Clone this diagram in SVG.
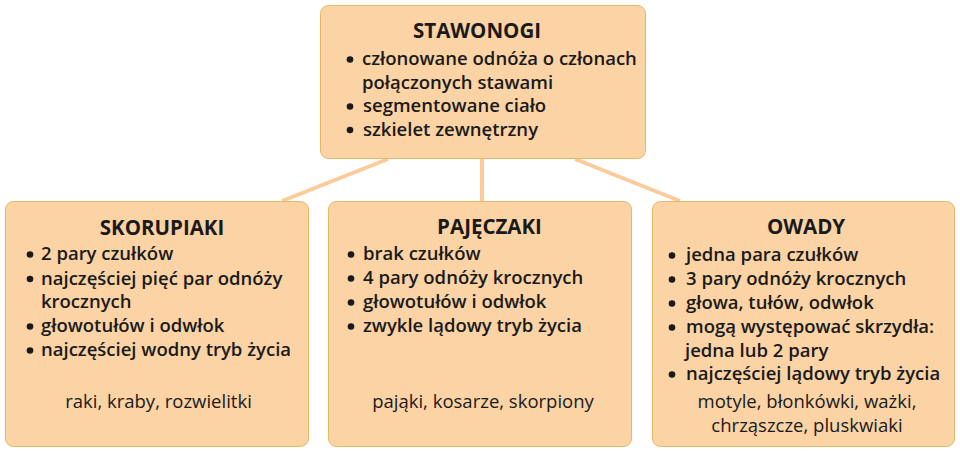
<svg xmlns="http://www.w3.org/2000/svg" width="960" height="453" viewBox="0 0 960 453">
<style>
.box{fill:#FBD3A5;stroke:#E5B866;stroke-width:1}
.t{font-family:"Open Sans","Noto Sans",sans-serif;font-size:18.5px;font-weight:600;fill:#1a1a1a}
.h{font-family:"Open Sans","Noto Sans",sans-serif;font-size:20.5px;font-weight:bold;fill:#1a1a1a;text-anchor:middle}
.f{font-family:"Open Sans","Noto Sans",sans-serif;font-size:18.5px;fill:#1a1a1a;text-anchor:middle}
.b{fill:#1a1a1a}
.c{stroke:#FDCB9A;stroke-width:4;fill:none}
</style>
<rect width="960" height="453" fill="#ffffff"/>
<g id="connectors">
<line class="c" x1="388" y1="159" x2="282" y2="201"/>
<line class="c" x1="482" y1="159" x2="482" y2="201"/>
<line class="c" x1="575" y1="159" x2="680" y2="201"/>
</g>
<g id="stawonogi">
<rect class="box" x="320.5" y="5.5" width="325" height="153" rx="8"/>
<text class="h" x="477" y="38">STAWONOGI</text>
<circle class="b" cx="350" cy="59.5" r="3.3"/>
<text class="t" x="362" y="65">członowane odnóża o członach</text>
<text class="t" x="362" y="88.5">połączonych stawami</text>
<circle class="b" cx="350" cy="106.5" r="3.3"/>
<text class="t" x="363" y="112">segmentowane ciało</text>
<circle class="b" cx="350" cy="130" r="3.3"/>
<text class="t" x="363" y="135.5">szkielet zewnętrzny</text>
</g>
<g id="skorupiaki">
<rect class="box" x="5.5" y="201.5" width="303" height="245" rx="8"/>
<text class="h" x="162" y="235">SKORUPIAKI</text>
<circle class="b" cx="30" cy="254.5" r="3.3"/>
<text class="t" x="41" y="260">2 pary czułków</text>
<circle class="b" cx="30" cy="279" r="3.3"/>
<text class="t" x="41" y="284.5">najczęściej pięć par odnóży</text>
<text class="t" x="41" y="308">krocznych</text>
<circle class="b" cx="30" cy="326.5" r="3.3"/>
<text class="t" x="41" y="332">głowotułów i odwłok</text>
<circle class="b" cx="30" cy="350.5" r="3.3"/>
<text class="t" x="41" y="356">najczęściej wodny tryb życia</text>
<text class="f" x="158.5" y="408">raki, kraby, rozwielitki</text>
</g>
<g id="pajeczaki">
<rect class="box" x="328.5" y="201.5" width="303" height="245" rx="8"/>
<text class="h" x="489.5" y="233.5">PAJĘCZAKI</text>
<circle class="b" cx="351" cy="254.5" r="3.3"/>
<text class="t" x="363" y="260">brak czułków</text>
<circle class="b" cx="351" cy="278.5" r="3.3"/>
<text class="t" x="363" y="284">4 pary odnóży krocznych</text>
<circle class="b" cx="351" cy="302.5" r="3.3"/>
<text class="t" x="363" y="308">głowotułów i odwłok</text>
<circle class="b" cx="351" cy="326.5" r="3.3"/>
<text class="t" x="363" y="332">zwykle lądowy tryb życia</text>
<text class="f" x="483" y="408">pająki, kosarze, skorpiony</text>
</g>
<g id="owady">
<rect class="box" x="652.5" y="201.5" width="302" height="245" rx="8"/>
<text class="h" x="806" y="233.5">OWADY</text>
<circle class="b" cx="672" cy="255.5" r="3.3"/>
<text class="t" x="686" y="261">jedna para czułków</text>
<circle class="b" cx="672" cy="279.5" r="3.3"/>
<text class="t" x="686" y="285">3 pary odnóży krocznych</text>
<circle class="b" cx="672" cy="303.5" r="3.3"/>
<text class="t" x="686" y="309">głowa, tułów, odwłok</text>
<circle class="b" cx="672" cy="327.5" r="3.3"/>
<text class="t" x="686" y="333">mogą występować skrzydła:</text>
<text class="t" x="685" y="357">jedna lub 2 pary</text>
<circle class="b" cx="672" cy="374.5" r="3.3"/>
<text class="t" x="686" y="380">najczęściej lądowy tryb życia</text>
<text class="f" x="807" y="408">motyle, błonkówki, ważki,</text>
<text class="f" x="807" y="432">chrząszcze, pluskwiaki</text>
</g>
</svg>
